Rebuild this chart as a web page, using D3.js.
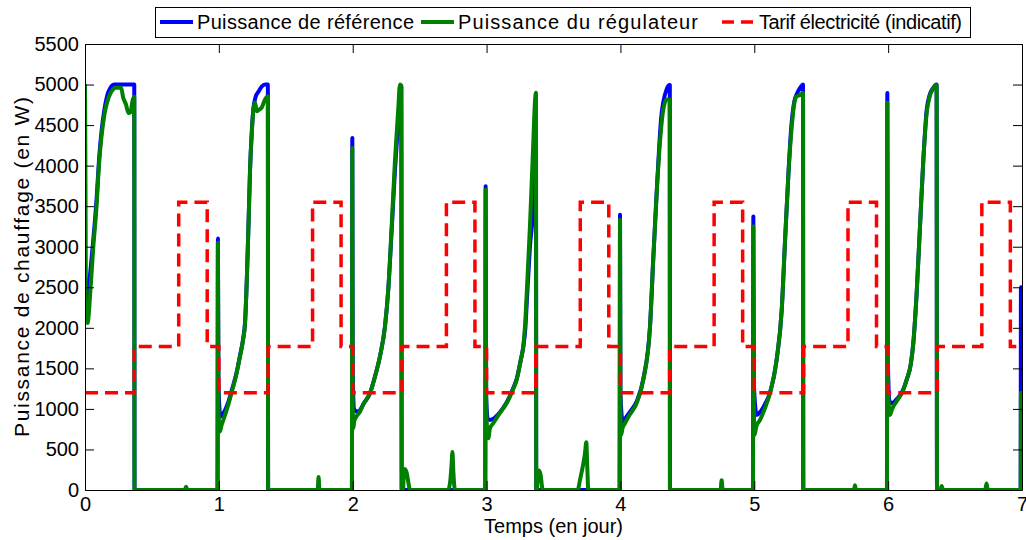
<!DOCTYPE html>
<html>
<head>
<meta charset="utf-8">
<script src="https://cdn.jsdelivr.net/npm/d3@7"></script>
<style>
  body { margin: 0; background: #fff; }
  text { font-family: "Liberation Sans", Arial, sans-serif; fill: #000; }
</style>
</head>
<body>
<svg id="chart" width="1026" height="540"></svg>
<script>
// power set point (blue), [day, W]
let refPower = [
  [0, 5000], [0.004, 2500], [0.012, 2220], [0.03, 2520], [0.06, 3050], [0.087, 3600], [0.105, 4080],
  [0.124, 4430], [0.145, 4690], [0.165, 4860], [0.19, 4960], [0.22, 5000], [0.368, 5000], [0.37, 0],
  [0.99, 0], [0.993, 3100], [0.997, 1300], [1.012, 905], [1.035, 950], [1.07, 1080], [1.1, 1250],
  [1.13, 1430], [1.158, 1660], [1.18, 1850], [1.196, 2080], [1.21, 2650], [1.222, 3300], [1.233, 3950],
  [1.246, 4420], [1.258, 4700], [1.275, 4850], [1.295, 4910], [1.32, 4975], [1.345, 5000], [1.366, 5000], [1.368, 0],
  [1.994, 0], [1.997, 4340], [2.0, 1500], [2.01, 1000], [2.03, 967], [2.054, 985], [2.08, 1060], [2.129, 1193],
  [2.17, 1420], [2.204, 1650], [2.241, 2016], [2.266, 2480], [2.291, 3200], [2.316, 3950], [2.34, 4550],
  [2.355, 4880], [2.364, 4980], [2.366, 0],
  [2.99, 0], [2.993, 3745], [2.997, 1150], [3.01, 880], [3.025, 864], [3.05, 880], [3.1, 960], [3.15, 1080],
  [3.2, 1260], [3.225, 1370], [3.255, 1600], [3.274, 1760], [3.29, 2000], [3.3, 2300], [3.324, 3000],
  [3.35, 3550], [3.362, 4300], [3.369, 4850], [3.371, 0],
  [3.994, 0], [3.997, 3395], [4.0, 1200], [4.017, 843], [4.034, 880], [4.07, 960], [4.121, 1090], [4.171, 1370],
  [4.221, 2016], [4.245, 2840], [4.271, 3680], [4.292, 4300], [4.305, 4600], [4.32, 4780], [4.345, 4940],
  [4.358, 4985], [4.369, 4995], [4.37, 0],
  [4.99, 0], [4.993, 3374], [4.997, 1300], [5.018, 926], [5.043, 960], [5.08, 1060], [5.117, 1200], [5.167, 1610],
  [5.205, 2222], [5.229, 3045], [5.254, 3868], [5.275, 4450], [5.3, 4800], [5.317, 4880], [5.342, 4960],
  [5.354, 4985], [5.364, 5000], [5.366, 0],
  [5.991, 0], [5.994, 4897], [5.998, 1600], [6.01, 1100], [6.026, 1070], [6.07, 1130], [6.11, 1230], [6.138, 1358],
  [6.17, 1560], [6.188, 1811], [6.213, 2428], [6.238, 3251], [6.263, 4074], [6.288, 4691], [6.31, 4870],
  [6.337, 4959], [6.362, 5000], [6.365, 0],
  [6.99, 0], [6.992, 2500], [7.0, 2500]
]

// regulator power (green), [day, W]
let regPower = [
  [0, 5000], [0.004, 2300], [0.019, 2060], [0.04, 2450], [0.06, 2950], [0.087, 3520], [0.105, 4020],
  [0.124, 4370], [0.145, 4630], [0.165, 4780], [0.19, 4890], [0.21, 4940], [0.23, 4960], [0.27, 4960],
  [0.285, 4840], [0.305, 4760], [0.325, 4650], [0.34, 4660], [0.355, 4800], [0.368, 4850], [0.37, 0],
  [0.745, 0], [0.755, 40], [0.765, 0],
  [0.99, 0], [0.993, 3050], [0.997, 1000], [1.008, 720], [1.02, 800], [1.035, 870], [1.07, 1050], [1.1, 1230],
  [1.13, 1420], [1.158, 1646], [1.18, 1840], [1.196, 2060], [1.21, 2650], [1.222, 3300], [1.233, 3950],
  [1.246, 4400], [1.258, 4700], [1.27, 4780], [1.283, 4670], [1.3, 4690], [1.32, 4716], [1.345, 4815],
  [1.366, 4856], [1.368, 0],
  [1.738, 0], [1.745, 160], [1.752, 0],
  [1.994, 0], [1.997, 4218], [2.0, 1200], [2.004, 761], [2.012, 850], [2.025, 900], [2.054, 965], [2.08, 1060],
  [2.129, 1193], [2.17, 1420], [2.204, 1650], [2.241, 2016], [2.266, 2480], [2.291, 3251], [2.316, 4074],
  [2.34, 4691], [2.353, 5000], [2.362, 4990], [2.366, 0],
  [2.376, 0], [2.382, 200], [2.39, 260], [2.4, 230], [2.43, 0],
  [2.712, 0], [2.728, 100], [2.738, 300], [2.745, 470], [2.752, 220], [2.764, 0],
  [2.99, 0], [2.993, 3704], [2.997, 1000], [3.013, 638], [3.025, 760], [3.05, 823], [3.1, 950], [3.15, 1070],
  [3.2, 1250], [3.225, 1358], [3.255, 1600], [3.274, 1770], [3.29, 2100], [3.3, 2428], [3.324, 3251],
  [3.349, 4280], [3.362, 4800], [3.369, 4900], [3.371, 0],
  [3.376, 0], [3.383, 170], [3.392, 240], [3.402, 200], [3.42, 0],
  [3.68, 0], [3.7, 140], [3.72, 300], [3.735, 450], [3.745, 590], [3.752, 300], [3.76, 0],
  [3.994, 0], [3.997, 3333], [4.0, 1000], [4.005, 679], [4.015, 760], [4.034, 823], [4.07, 930], [4.121, 1070],
  [4.171, 1358], [4.221, 2016], [4.245, 2840], [4.271, 3663], [4.295, 4280], [4.32, 4691], [4.345, 4815],
  [4.368, 4815], [4.37, 0],
  [4.748, 0], [4.756, 120], [4.764, 0],
  [4.99, 0], [4.993, 3251], [4.997, 1000], [5.002, 679], [5.015, 780], [5.043, 864], [5.08, 1010], [5.117, 1193],
  [5.167, 1605], [5.205, 2222], [5.229, 3045], [5.254, 3868], [5.28, 4485], [5.3, 4780], [5.317, 4856],
  [5.342, 4870], [5.364, 4900], [5.366, 0],
  [5.745, 0], [5.752, 60], [5.76, 0],
  [5.991, 0], [5.994, 4774], [5.998, 1300], [6.014, 926], [6.03, 1000], [6.07, 1110], [6.11, 1220], [6.138, 1358],
  [6.17, 1560], [6.188, 1811], [6.213, 2428], [6.238, 3251], [6.263, 4074], [6.288, 4650], [6.31, 4850],
  [6.337, 4950], [6.362, 4990], [6.365, 0],
  [6.39, 0], [6.4, 50], [6.41, 0],
  [6.725, 0], [6.735, 80], [6.745, 0],
  [6.99, 0], [6.992, 1200], [7.0, 1200]
]

// indicative tariff, steps [day, level]
let tariff = [
  [0, 1200], [0.368, 1770], [0.7, 3550], [0.913, 1770],
  [1, 1200], [1.368, 1770], [1.7, 3550], [1.913, 1770],
  [2, 1200], [2.368, 1770], [2.7, 3550], [2.913, 1770],
  [3, 1200], [3.368, 1770], [3.7, 3550], [3.913, 1770],
  [4, 1200], [4.368, 1770], [4.7, 3550], [4.913, 1770],
  [5, 1200], [5.368, 1770], [5.7, 3550], [5.913, 1770],
  [6, 1200], [6.368, 1770], [6.7, 3550], [6.913, 1770],
  [7, 1770]
]

let xTicks = [0, 1, 2, 3, 4, 5, 6, 7]
let yTicks = [0, 500, 1000, 1500, 2000, 2500, 3000, 3500, 4000, 4500, 5000, 5500]

let seriesNames = ['Puissance de référence', 'Puissance du régulateur', 'Tarif électricité (indicatif)']

let margin = { top: 44, left: 85, right: 4, bottom: 50 }
let width = 1026 - margin.left - margin.right
let height = 540 - margin.top - margin.bottom

let svg = d3.select('#chart')

let x = d3.scaleLinear().domain([0, 7]).range([0, width])
let y = d3.scaleLinear().domain([0, 5500]).range([height, 0])

let g = svg.append('g').attr('transform', `translate(${margin.left},${margin.top})`)

g.append('clipPath')
  .attr('id', 'clip')
  .append('rect')
  .attr('x', 0)
  .attr('y', -2)
  .attr('width', width + 1)
  .attr('height', height + 2)

let powerLine = d3.line()
  .x(d => x(d[0]))
  .y(d => y(d[1]))
  .curve(d3.curveMonotoneX)

let stepLine = d3.line()
  .x(d => x(d[0]))
  .y(d => y(d[1]))
  .curve(d3.curveStepAfter)

let plot = g.append('g').attr('clip-path', 'url(#clip)')

plot.append('path')
  .datum(refPower)
  .attr('d', powerLine)
  .attr('fill', 'none')
  .attr('stroke', '#0000ff')
  .attr('stroke-width', 4)
  .attr('stroke-linejoin', 'round')

plot.append('path')
  .datum(regPower)
  .attr('d', powerLine)
  .attr('fill', 'none')
  .attr('stroke', '#008000')
  .attr('stroke-width', 4)
  .attr('stroke-linejoin', 'round')

plot.append('path')
  .datum(tariff)
  .attr('d', stepLine)
  .attr('fill', 'none')
  .attr('stroke', '#ff0000')
  .attr('stroke-width', 3.5)
  .attr('stroke-dasharray', '13,7')

// axes, matlab style: ticks inside, box all round
let axisFont = sel => sel.selectAll('text').style('font-size', '20px').attr('fill', '#000')

g.append('g')
  .attr('transform', `translate(0,${height})`)
  .call(d3.axisBottom(x).tickValues(xTicks).tickFormat(d3.format('d')).tickSize(-9).tickSizeOuter(0).tickPadding(7))
  .call(axisFont)

g.append('g')
  .call(d3.axisLeft(y).tickValues(yTicks).tickFormat(d3.format('d')).tickSize(-9).tickSizeOuter(0).tickPadding(6))
  .call(axisFont)

g.append('g')
  .call(d3.axisTop(x).tickValues(xTicks).tickSize(-9).tickSizeOuter(0).tickFormat(''))

g.append('g')
  .attr('transform', `translate(${width},0)`)
  .call(d3.axisRight(y).tickValues(yTicks).tickSize(-9).tickSizeOuter(0).tickFormat(''))

g.selectAll('.domain, .tick line').attr('stroke', '#000')

g.append('text')
  .attr('x', width / 2)
  .attr('y', height + 43)
  .attr('text-anchor', 'middle')
  .style('font-size', '20px')
  .text('Temps (en jour)')

g.append('text')
  .attr('transform', `translate(${-56},${height / 2}) rotate(-90)`)
  .attr('text-anchor', 'middle')
  .attr('textLength', 340)
  .attr('lengthAdjust', 'spacing')
  .style('font-size', '21px')
  .text('Puissance de chauffage (en W)')

// legend
let legend = svg.append('g')

legend.append('rect')
  .attr('x', 155.5)
  .attr('y', 7.5)
  .attr('width', 815)
  .attr('height', 30)
  .attr('fill', '#fff')
  .attr('stroke', '#000')

let legendColors = ['#0000ff', '#008000', '#ff0000']
let legendX = [160, 421, 722]
let legendTextWidth = [217, 240, 203]

seriesNames.forEach((name, i) => {
  legend.append('line')
    .attr('x1', legendX[i])
    .attr('x2', legendX[i] + 33)
    .attr('y1', 22)
    .attr('y2', 22)
    .attr('stroke', legendColors[i])
    .attr('stroke-width', i === 2 ? 3.5 : 4)
    .attr('stroke-dasharray', i === 2 ? '12,7' : null)

  legend.append('text')
    .attr('x', legendX[i] + 37)
    .attr('y', 29)
    .attr('textLength', legendTextWidth[i])
    .attr('lengthAdjust', 'spacing')
    .style('font-size', '20px')
    .text(name)
})
</script>
</body>
</html>
